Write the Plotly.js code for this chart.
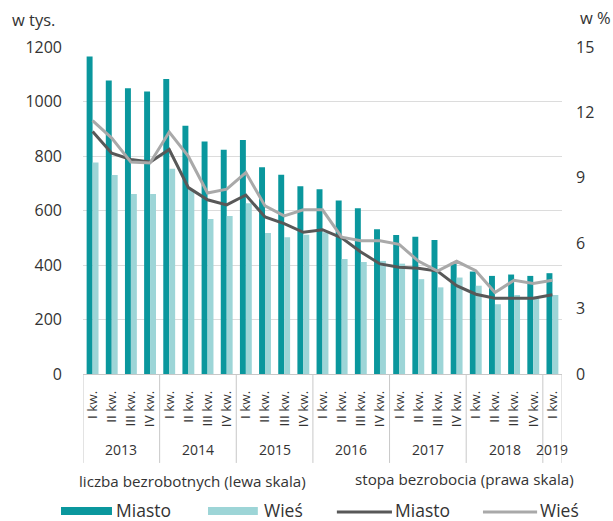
<!DOCTYPE html>
<html><head><meta charset="utf-8">
<script src="https://cdn.plot.ly/plotly-3.0.1.min.js"></script>
<style>html,body{margin:0;padding:0;background:#fff}#chart{width:613px;height:521px}</style>
</head><body><div id="chart"></div>
<script>
// Categories
const yearLabels = ['2013','2013','2013','2013','2014','2014','2014','2014','2015','2015','2015','2015',
  '2016','2016','2016','2016','2017','2017','2017','2017','2018','2018','2018','2018','2019'];
const quarterLabels = ['I kw.','II kw.','III kw.','IV kw.','I kw.','II kw.','III kw.','IV kw.',
  'I kw.','II kw.','III kw.','IV kw.','I kw.','II kw.','III kw.','IV kw.',
  'I kw.','II kw.','III kw.','IV kw.','I kw.','II kw.','III kw.','IV kw.','I kw.'];

// Liczba bezrobotnych (w tys.) - lewa skala
const miastoCount = [1165,1077,1049,1037, 1083,911,853,823, 859,759,731,689,
  678,637,608,531, 510,504,492,409, 376,360,365,360, 370];
const wiesCount = [776,730,661,661, 753,676,569,580, 627,517,502,511,
  520,422,411,415, 405,348,318,354, 324,256,290,284, 290];

// Stopa bezrobocia (w %) - prawa skala
const miastoRate = [11.12,10.13,9.84,9.72, 10.3,8.55,7.99,7.76, 8.21,7.2,6.9,6.5,
  6.62,6.25,5.6,5.05, 4.9,4.85,4.72,4.05, 3.66,3.48,3.48,3.48, 3.64];
const wiesRate = [11.62,10.82,9.72,9.68, 11.1,9.98,8.3,8.48, 9.24,7.71,7.25,7.53,
  7.53,6.28,6.11,6.11, 5.95,5.18,4.72,5.17, 4.74,3.74,4.3,4.15, 4.3];

const seriesNames = ['Miasto','Wieś'];
const leftTitle = 'w tys.';
const rightTitle = 'w %';
const groupTitles = ['liczba bezrobotnych (lewa skala)','stopa bezrobocia (prawa skala)'];

const FONT = '"Open Sans", "Noto Sans", "DejaVu Sans", sans-serif';
const TXT = '#333333';
const DARK = '#0a979d';
const LIGHT = '#9dd5d7';
const DARKLINE = '#585858';
const LIGHTLINE = '#a9a9a9';
const GRID = '#dcdcdc';
const DIV = '#c8c8c8';
const f = (size) => ({family:FONT, size:size, color:TXT});

// category positions on the x axis
const idx = quarterLabels.map((_, i) => i);

const traces = [
  {type:'bar', x:idx, y:miastoCount, name:seriesNames[0], marker:{color:DARK}, yaxis:'y'},
  {type:'bar', x:idx, y:wiesCount, name:seriesNames[1], marker:{color:LIGHT}, yaxis:'y'},
  {type:'scatter', mode:'lines', x:idx, y:miastoRate, name:seriesNames[0], yaxis:'y2',
   line:{color:DARKLINE, width:3}},
  {type:'scatter', mode:'lines', x:idx, y:wiesRate, name:seriesNames[1], yaxis:'y2',
   line:{color:LIGHTLINE, width:3}}
];

// year groups -> dividers and year labels (derived from category arrays)
const groups = [];
yearLabels.forEach((yr, i) => {
  const g = groups[groups.length - 1];
  if (!g || g.year !== yr) groups.push({year: yr, first: i, last: i});
  else g.last = i;
});
const shapes = [];
const annotations = [];
groups.forEach((g, k) => {
  shapes.push({type:'line', xref:'x', yref:'paper', x0:g.first - 0.5, x1:g.first - 0.5,
    y0:0, y1:-0.272, line:{color:DIV, width:1}});
  if (k === groups.length - 1) {
    shapes.push({type:'line', xref:'x', yref:'paper', x0:g.last + 0.5, x1:g.last + 0.5,
      y0:0, y1:-0.272, line:{color:DIV, width:1}});
  }
  annotations.push({text:g.year, xref:'x', yref:'paper', x:(g.first + g.last) / 2, y:-0.232,
    xanchor:'center', yanchor:'middle', showarrow:false, font:f(14)});
});

// axis unit labels
annotations.push(
  {text:leftTitle, xref:'paper', yref:'paper', x:-0.152, y:1.083, xanchor:'left', yanchor:'middle',
   showarrow:false, font:f(16.5)},
  {text:rightTitle, xref:'paper', yref:'paper', x:1.034, y:1.09, xanchor:'left', yanchor:'middle',
   showarrow:false, font:f(16.5)}
);

// custom legend (section titles + wide swatches)
annotations.push(
  {text:groupTitles[0], xref:'paper', yref:'paper', x:-0.0125, y:-0.327, xanchor:'left', yanchor:'middle',
   showarrow:false, font:f(15.2)},
  {text:groupTitles[1], xref:'paper', yref:'paper', x:0.5637, y:-0.321, xanchor:'left', yanchor:'middle',
   showarrow:false, font:f(15.2)},
  {text:seriesNames[0], xref:'paper', yref:'paper', x:0.064, y:-0.415, xanchor:'left', yanchor:'middle',
   showarrow:false, font:f(17.5)},
  {text:seriesNames[1], xref:'paper', yref:'paper', x:0.3737, y:-0.415, xanchor:'left', yanchor:'middle',
   showarrow:false, font:f(17.5)},
  {text:seriesNames[0], xref:'paper', yref:'paper', x:0.647, y:-0.415, xanchor:'left', yanchor:'middle',
   showarrow:false, font:f(17.5)},
  {text:seriesNames[1], xref:'paper', yref:'paper', x:0.949, y:-0.415, xanchor:'left', yanchor:'middle',
   showarrow:false, font:f(17.5)}
);
shapes.push(
  {type:'rect', xref:'paper', yref:'paper', x0:-0.0459, x1:0.0605, y0:-0.4067, y1:-0.4312,
   fillcolor:DARK, line:{width:0}},
  {type:'rect', xref:'paper', yref:'paper', x0:0.261, x1:0.365, y0:-0.4067, y1:-0.4312,
   fillcolor:LIGHT, line:{width:0}},
  {type:'line', xref:'paper', yref:'paper', x0:0.530, x1:0.645, y0:-0.422, y1:-0.422,
   line:{color:DARKLINE, width:3}},
  {type:'line', xref:'paper', yref:'paper', x0:0.835, x1:0.948, y0:-0.422, y1:-0.422,
   line:{color:LIGHTLINE, width:3}}
);

const layout = {
  width:613, height:521,
  margin:{l:83, r:51, t:47, b:147, autoexpand:false},
  paper_bgcolor:'#ffffff', plot_bgcolor:'#ffffff',
  font:{family:FONT, color:TXT, size:14},
  barmode:'group', bargap:0.38, bargroupgap:0,
  showlegend:false,
  xaxis:{range:[-0.5, quarterLabels.length - 0.5], tickmode:'array', tickvals:idx, ticktext:quarterLabels,
    tickangle:-90, tickfont:f(13.5), showgrid:false, showline:false,
    ticks:'', zeroline:false, automargin:false, ticklabelstandoff:13},
  yaxis:{range:[0,1200], dtick:200, gridcolor:GRID, gridwidth:1, zeroline:true,
    zerolinecolor:DIV, zerolinewidth:1, showline:false, ticks:'',
    tickfont:f(16), ticklabelstandoff:20, automargin:false},
  yaxis2:{range:[0,15], dtick:3, overlaying:'y', side:'right', showgrid:false,
    zeroline:false, showline:false, ticks:'', tickfont:f(16),
    ticklabelstandoff:13, automargin:false},
  shapes:shapes,
  annotations:annotations
};

Plotly.newPlot('chart', traces, layout, {staticPlot:true, displayModeBar:false});
</script>
</body></html>
